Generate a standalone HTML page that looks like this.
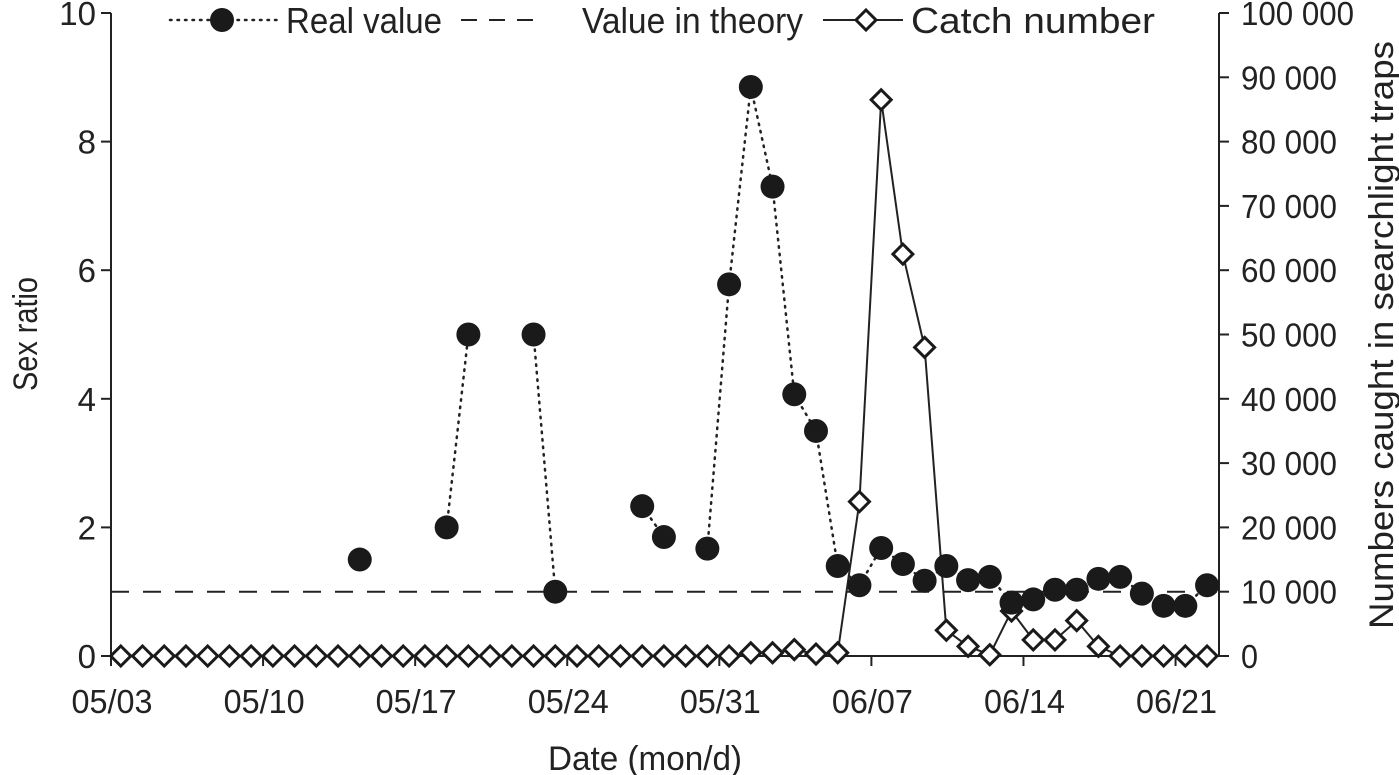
<!DOCTYPE html>
<html><head><meta charset="utf-8"><style>
html,body{margin:0;padding:0;background:#fff;}
svg{display:block;font-family:"Liberation Sans",Arial,sans-serif;}
</style></head><body>
<svg id="chart" width="1399" height="775" viewBox="0 0 1399 775"></svg>
<script>
const ratio = [null,null,null,null,null,null,null,null,null,null,null,1.5,null,null,null,2.0,5.0,null,null,5.0,1.0,null,null,null,2.33,1.85,null,1.67,5.78,8.85,7.3,4.07,3.5,1.4,1.1,1.68,1.43,1.17,1.4,1.18,1.23,0.83,0.88,1.03,1.03,1.2,1.23,0.97,0.78,0.78,1.1];
const catchNum = [0,0,0,0,0,0,0,0,0,0,0,0,0,0,0,0,0,0,0,0,0,0,0,0,0,0,0,0,0,500,500,1000,300,500,24000,86500,62500,48000,4000,1500,200,7000,2500,2500,5500,1500,0,0,0,0,0];
const theory = 1;
const xLabels = ["05/03","05/10","05/17","05/24","05/31","06/07","06/14","06/21"];
const leftTicks = [0,2,4,6,8,10];
const rightTicks = [0,10000,20000,30000,40000,50000,60000,70000,80000,90000,100000];

const NS="http://www.w3.org/2000/svg";
const svg=document.getElementById('chart');
const L=111,R=1219,T=13,B=656;
const FS=33;
const dayW=(R-L)/51;
const x=i=>L+dayW*(i+0.45);
const xt=d=>L+dayW*d;
const yL=v=>B-(B-T)*v/10;
const yR=v=>B-(B-T)*v/100000;
function el(tag,attrs,parent){const e=document.createElementNS(NS,tag);for(const k in attrs)e.setAttribute(k,attrs[k]);(parent||svg).appendChild(e);return e;}
function fmt(n){if(n<10000)return String(n);const s=String(n);return s.slice(0,s.length-3)+" "+s.slice(-3);}

let a=el('line',{x1:L,y1:T,x2:L,y2:B+8,stroke:'#222','stroke-width':2});

a=el('line',{x1:R,y1:T,x2:R,y2:B,stroke:'#222','stroke-width':2});

a=el('line',{x1:L-8,y1:B,x2:R,y2:B,stroke:'#222','stroke-width':2});


leftTicks.forEach(v=>{
  const t=el('line',{x1:L-10,y1:yL(v),x2:L,y2:yL(v),stroke:'#222','stroke-width':2});
  
  const tx=el('text',{x:L-15,y:yL(v)+12,'text-anchor':'end','font-size':FS,fill:'#222'});
  tx.textContent=v;
  
});
rightTicks.forEach(v=>{
  const t=el('line',{x1:R,y1:yR(v),x2:R+10,y2:yR(v),stroke:'#222','stroke-width':2});
  
  const w=v>=100000?113:(v>=10000?96:17);
  const tx=el('text',{x:R+22,y:yR(v)+12,'text-anchor':'start','font-size':FS,fill:'#222',textLength:w,lengthAdjust:'spacingAndGlyphs'});
  tx.textContent=fmt(v);
  
});
xLabels.forEach((lab,k)=>{
  const d=k*7;
  const t=el('line',{x1:xt(d),y1:B,x2:xt(d),y2:B+10,stroke:'#222','stroke-width':2});
  
  const tx=el('text',{x:xt(d)+1,y:713,'text-anchor':'middle','font-size':FS,fill:'#222',textLength:81,lengthAdjust:'spacingAndGlyphs'});
  tx.textContent=lab;
  
});

let tt=el('text',{x:645,y:770,'text-anchor':'middle','font-size':34,fill:'#222',textLength:194,lengthAdjust:'spacingAndGlyphs'});tt.textContent='Date (mon/d)';

tt=el('text',{x:0,y:0,'text-anchor':'middle','font-size':34,fill:'#222',transform:'translate(37,334) rotate(-90)',textLength:114,lengthAdjust:'spacingAndGlyphs'});tt.textContent='Sex ratio';

tt=el('text',{x:0,y:0,'text-anchor':'middle','font-size':34,fill:'#222',transform:'translate(1393,335) rotate(-90)',textLength:588,lengthAdjust:'spacingAndGlyphs'});tt.textContent='Numbers caught in searchlight traps';


let th=el('line',{x1:L,y1:yL(theory),x2:R,y2:yL(theory),stroke:'#222','stroke-width':2,'stroke-dasharray':'18 14'});


for(let i=0;i<ratio.length-1;i++){
  if(ratio[i]!=null&&ratio[i+1]!=null){
    const s=el('line',{x1:x(i),y1:yL(ratio[i]),x2:x(i+1),y2:yL(ratio[i+1]),stroke:'#222','stroke-width':2.5,'stroke-dasharray':'1.5 6','stroke-linecap':'round'});
    
  }
}
let pts=catchNum.map((v,i)=>x(i)+','+yR(v)).join(' ');
let cl=el('polyline',{points:pts,fill:'none',stroke:'#222','stroke-width':2});

catchNum.forEach((v,i)=>{
  const cx=x(i),cy=yR(v),s=10;
  const d=el('polygon',{points:`${cx},${cy-s} ${cx+s},${cy} ${cx},${cy+s} ${cx-s},${cy}`,fill:'#fff',stroke:'#1a1a1a','stroke-width':3});
  
});
ratio.forEach((v,i)=>{
  if(v==null)return;
  const c=el('circle',{cx:x(i),cy:yL(v),r:12,fill:'#1a1a1a'});
  
});

const lg=el('g',{});

let e=el('line',{x1:170,y1:20,x2:278,y2:20,stroke:'#222','stroke-width':2.5,'stroke-dasharray':'1.5 6','stroke-linecap':'round'},lg);

e=el('circle',{cx:222,cy:20,r:12,fill:'#1a1a1a'},lg);

e=el('text',{x:286,y:33,'font-size':36,fill:'#222',textLength:156,lengthAdjust:'spacingAndGlyphs'},lg);e.textContent='Real value';

e=el('line',{x1:461,y1:20,x2:535,y2:20,stroke:'#222','stroke-width':2,'stroke-dasharray':'16 12'},lg);

e=el('text',{x:582,y:33,'font-size':36,fill:'#222',textLength:221,lengthAdjust:'spacingAndGlyphs'},lg);e.textContent='Value in theory';

e=el('line',{x1:823,y1:20,x2:903,y2:20,stroke:'#222','stroke-width':2},lg);

e=el('polygon',{points:'866,10 876,20 866,30 856,20',fill:'#fff',stroke:'#1a1a1a','stroke-width':3},lg);

e=el('text',{x:911,y:33,'font-size':36,fill:'#222',textLength:244,lengthAdjust:'spacingAndGlyphs'},lg);e.textContent='Catch number';

</script>
</body></html>
